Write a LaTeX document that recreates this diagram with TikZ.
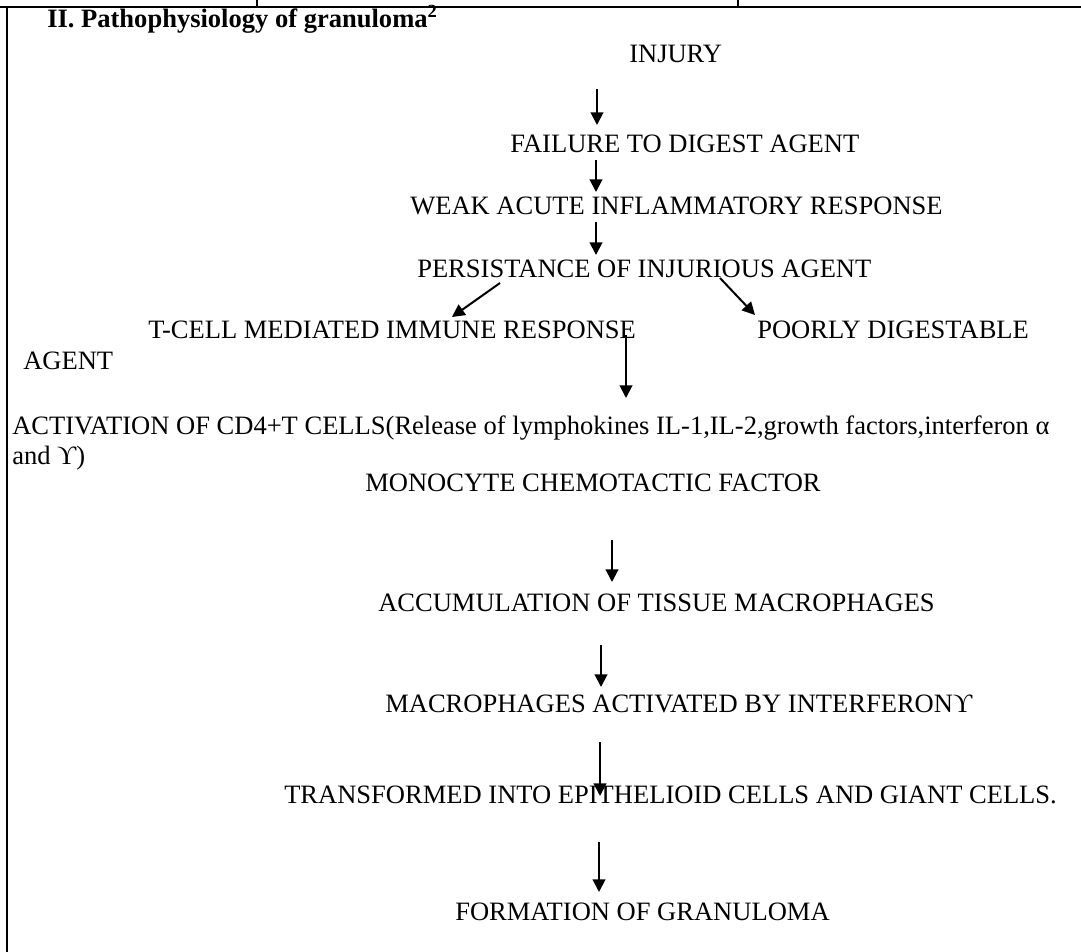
\documentclass[tikz,border=0pt]{standalone}
\usepackage{fontspec}
\setmainfont{Liberation Serif}
\usetikzlibrary{arrows.meta}

\tikzset{
  txt/.style={anchor=base west,inner sep=0pt,font=\fontsize{19.9}{23}\selectfont},
  flow/.style={-{Triangle[length=9.5pt,width=9.5pt]},line width=1.5pt},
  frame/.style={line width=1.6pt}
}

\begin{document}
\begin{tikzpicture}[x=0.75pt,y=-0.75pt]
			 \useasboundingbox (0,0) rectangle (1081,952);
			 \draw[frame] (0,7) -- (1081,7);
			 \draw[frame] (7,7) -- (7,952);
			 \draw[line width=1.2pt] (257,0) -- (257,7);
			 \draw[line width=1.2pt] (738,0) -- (738,7);
			 \node[txt,font=\fontsize{19.9}{23}\selectfont\bfseries] (title) at (47,28) {II. Pathophysiology of granuloma\textsuperscript{2}};
			 \node[txt] (injury) at (629,63) {INJURY};
			 \node[txt] (failure) at (510,153) {FAILURE TO DIGEST AGENT};
			 \node[txt] (weak) at (410,215) {WEAK ACUTE INFLAMMATORY RESPONSE};
			 \node[txt] (persist) at (417,277) {PERSISTANCE OF INJURIOUS AGENT};
			 \node[txt] (tcell) at (148,338) {T-CELL MEDIATED IMMUNE RESPONSE};
			 \node[txt] (poorly) at (757,338) {POORLY DIGESTABLE};
			 \node[txt] (agent) at (23,369) {AGENT};
			 \node[txt] (cd4) at (12,434) {ACTIVATION OF CD4+T CELLS(Release of lymphokines IL-1,IL-2,growth factors,interferon α};
			 \node[txt] (cd4b) at (12,464) {and ϒ)};
			 \node[txt] (mcf) at (365,491) {MONOCYTE CHEMOTACTIC FACTOR};
			 \node[txt] (accum) at (378,611) {ACCUMULATION OF TISSUE MACROPHAGES};
			 \node[txt] (macro) at (385,712) {MACROPHAGES ACTIVATED BY INTERFERONϒ};
			 \node[txt] (epith) at (284,803) {TRANSFORMED INTO EPITHELIOID CELLS AND GIANT CELLS.};
			 \node[txt] (granuloma) at (455,920) {FORMATION OF GRANULOMA};
			 \coordinate (a1s) at (597,89);  \coordinate (a1e) at (597,125);
			 \coordinate (a2s) at (596,160); \coordinate (a2e) at (596,192);
			 \coordinate (a3s) at (596,222); \coordinate (a3e) at (596,255);
			 \coordinate (l1s) at (500,283); \coordinate (l1e) at (452,317);
			 \coordinate (r1s) at (720,278); \coordinate (r1e) at (755,315);
			 \coordinate (a4s) at (626,335); \coordinate (a4e) at (626,398);
			 \coordinate (a5s) at (612,540); \coordinate (a5e) at (612,582);
			 \coordinate (a6s) at (601,645); \coordinate (a6e) at (601,687);
			 \coordinate (a7s) at (600,742); \coordinate (a7e) at (600,796);
			 \coordinate (a8s) at (599,842); \coordinate (a8e) at (599,892);
			 \draw[flow] (a1s) -- (a1e);
			 \draw[flow] (a2s) -- (a2e);
			 \draw[flow] (a3s) -- (a3e);
			 \draw[flow] (l1s) -- (l1e);
			 \draw[flow] (r1s) -- (r1e);
			 \draw[flow] (a4s) -- (a4e);
			 \draw[flow] (a5s) -- (a5e);
			 \draw[flow] (a6s) -- (a6e);
			 \draw[flow] (a7s) -- (a7e);
			 \draw[flow] (a8s) -- (a8e);
			\end{tikzpicture}
\end{document}
